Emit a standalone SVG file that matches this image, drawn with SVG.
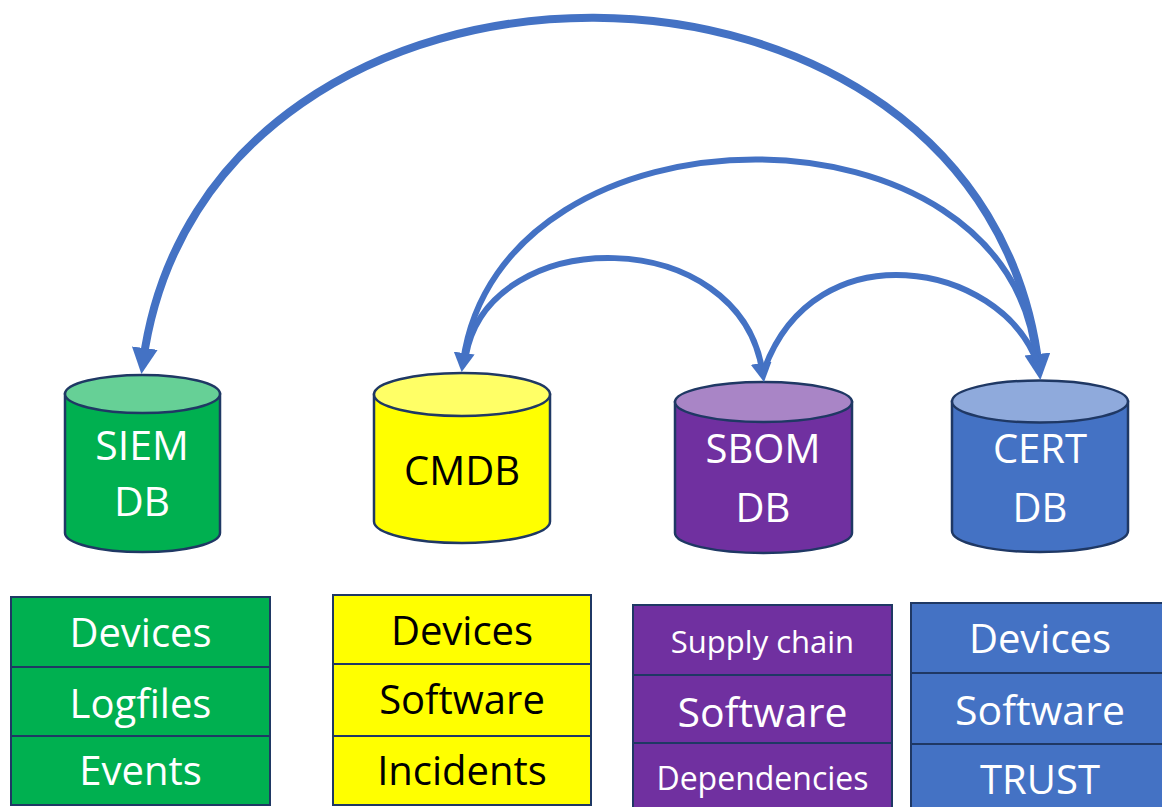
<svg xmlns="http://www.w3.org/2000/svg" width="1162" height="807" viewBox="0 0 1162 807">
  <defs>
    <style>
      .edge { stroke: #1F3864; stroke-width: 2.5; }
      .cell { stroke: #1F3864; stroke-width: 2; }
      .lbl { font-family: "Open Sans", "Liberation Sans", sans-serif; text-anchor: middle; }
      .light { fill: #FFFFFF; }
      .dark { fill: #000000; }
      .link { fill: none; stroke: #4472C4; }
      .green { fill: #00B050; } .greenTop { fill: #66D096; }
      .yellow { fill: #FFFF00; } .yellowTop { fill: #FFFF66; }
      .purple { fill: #7030A0; } .purpleTop { fill: #A985C6; }
      .blue { fill: #4472C4; } .blueTop { fill: #8FAADC; }
    </style>
    <marker id="headBig" markerUnits="userSpaceOnUse" viewBox="0 0 28 28" markerWidth="28" markerHeight="28" refX="14" refY="13" orient="auto-start-reverse">
      <path d="M0,0 L26,13 L0,26 Z" fill="#4472C4"/>
    </marker>
    <marker id="headMid" markerUnits="userSpaceOnUse" viewBox="0 0 22 22" markerWidth="22" markerHeight="22" refX="9" refY="10.5" orient="auto-start-reverse">
      <path d="M0,0 L19,10.5 L0,21 Z" fill="#4472C4"/>
    </marker>
  </defs>

  <rect width="1162" height="807" fill="#FFFFFF"/>

  <!-- database cylinders -->
  <g id="siem-db">
    <path class="green edge" d="M65,394 L65,533 A77.5,19 0 0 0 220,533 L220,394 Z"/>
    <ellipse class="greenTop edge" cx="142.5" cy="394" rx="77.5" ry="19"/>
    <text class="lbl light" x="142" y="460" font-size="41">SIEM</text>
    <text class="lbl light" x="142" y="516" font-size="41">DB</text>
  </g>

  <g id="cmdb">
    <path class="yellow edge" d="M374,394.5 L374,521.5 A88,21.5 0 0 0 550,521.5 L550,394.5 Z"/>
    <ellipse class="yellowTop edge" cx="462" cy="394.5" rx="88" ry="21.5"/>
    <text class="lbl dark" x="462" y="485" font-size="40">CMDB</text>
  </g>

  <g id="sbom-db">
    <path class="purple edge" d="M675,402 L675,533 A88.5,20 0 0 0 852,533 L852,402 Z"/>
    <ellipse class="purpleTop edge" cx="763.5" cy="402" rx="88.5" ry="20"/>
    <text class="lbl light" x="763" y="463" font-size="40">SBOM</text>
    <text class="lbl light" x="763" y="522" font-size="40">DB</text>
  </g>

  <g id="cert-db">
    <path class="blue edge" d="M952,401.5 L952,531 A88,21 0 0 0 1128,531 L1128,401.5 Z"/>
    <ellipse class="blueTop edge" cx="1040" cy="401.5" rx="88" ry="21"/>
    <text class="lbl light" x="1040" y="463" font-size="40">CERT</text>
    <text class="lbl light" x="1040" y="522" font-size="40">DB</text>
  </g>

  <!-- record stacks below each database -->
  <g id="siem-records">
    <rect class="green cell" x="11" y="597" width="259" height="70"/>
    <rect class="green cell" x="11" y="667" width="259" height="69"/>
    <rect class="green cell" x="11" y="736" width="259" height="69"/>
    <text class="lbl light" x="140.5" y="647" font-size="40">Devices</text>
    <text class="lbl light" x="140.5" y="718" font-size="40">Logfiles</text>
    <text class="lbl light" x="140.5" y="785" font-size="40">Events</text>
  </g>

  <g id="cmdb-records">
    <rect class="yellow cell" x="333" y="595" width="258" height="69"/>
    <rect class="yellow cell" x="333" y="664" width="258" height="72"/>
    <rect class="yellow cell" x="333" y="736" width="258" height="69"/>
    <text class="lbl dark" x="462" y="645" font-size="40">Devices</text>
    <text class="lbl dark" x="462" y="714" font-size="40">Software</text>
    <text class="lbl dark" x="462" y="785" font-size="40">Incidents</text>
  </g>

  <g id="sbom-records">
    <rect class="purple cell" x="633" y="605" width="259" height="70"/>
    <rect class="purple cell" x="633" y="675" width="259" height="68"/>
    <rect class="purple cell" x="633" y="743" width="259" height="70"/>
    <text class="lbl light" x="762.5" y="653" font-size="31">Supply chain</text>
    <text class="lbl light" x="762.5" y="727" font-size="41">Software</text>
    <text class="lbl light" x="762.5" y="790" font-size="32">Dependencies</text>
  </g>

  <g id="cert-records">
    <rect class="blue cell" x="911" y="603" width="258" height="70"/>
    <rect class="blue cell" x="911" y="673" width="258" height="71"/>
    <rect class="blue cell" x="911" y="744" width="258" height="70"/>
    <text class="lbl light" x="1040" y="653" font-size="40">Devices</text>
    <text class="lbl light" x="1040" y="725" font-size="41">Software</text>
    <text class="lbl light" x="1040" y="794" font-size="40">TRUST</text>
  </g>

  <!-- links between the databases -->
  <g id="connectors">
    <path class="link" stroke-width="8" d="M143,362 C205,-98 985,-98 1039,368" marker-start="url(#headBig)" marker-end="url(#headBig)"/>
    <path class="link" stroke-width="6" d="M463,362 C500,92 1015,92 1036,362" marker-start="url(#headMid)"/>
    <path class="link" stroke-width="6" d="M466,355 C490,223 740,223 762.5,372" marker-end="url(#headMid)"/>
    <path class="link" stroke-width="6" d="M764,370 C815,228 1000,262 1037,362"/>
  </g>
</svg>
